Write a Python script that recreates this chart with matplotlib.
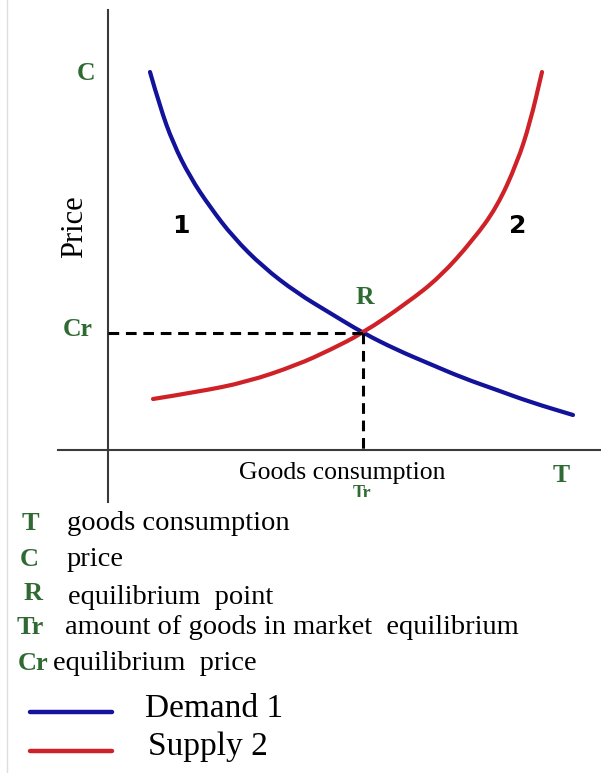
"""
Supply / demand equilibrium sketch with a text key underneath.
Coordinates are in picture pixels (origin top-left), read off the reference.
"""
import matplotlib as mpl
import matplotlib.pyplot as plt
from matplotlib.path import Path
from matplotlib.patches import PathPatch
from matplotlib.transforms import Bbox

mpl.rcParams.update({"font.family": "Liberation Serif"})

W, H = 601, 773
BLUE = "#12129a"
RED = "#cf2128"
GREEN = "#2f6a33"
AXIS = "#3a3a3a"

# demand curve 1 (x, y in px)
demand_x = [150, 160, 173, 190, 210, 233, 263, 297, 330, 363, 397, 430, 463, 497, 530, 573]
demand_y = [72, 107, 143, 177, 207, 237, 267, 293, 313, 333, 350, 364, 378, 390, 402, 415]

# supply curve 2
supply_x = [153, 197, 247, 297, 330, 363, 407, 440, 473, 497, 517, 530, 542]
supply_y = [399, 392, 382, 365, 350, 333, 303, 277, 240, 207, 163, 123, 72]

# equilibrium point R
eq_x, eq_y = 363, 333
origin_x, origin_y = 108, 450

key_symbols = ["T", "C", "R", "Tr", "Cr"]
key_texts = ["goods consumption", "price", "equilibrium  point",
             "amount of goods in market  equilibrium", "equilibrium  price"]
key_sym_pos = [(30, 523), (29, 560), (33, 594), (30, 628), (33, 663)]
key_txt_pos = [(67, 524), (67, 560), (68, 598), (65, 628), (53, 663)]


def smooth_curve(ax, xs, ys, **kw):
    # quadratic segments through the midpoints of the read points
    pts = list(zip(xs, ys))
    verts, codes = [pts[0]], [Path.MOVETO]
    for i in range(1, len(pts) - 1):
        mid = ((pts[i][0] + pts[i + 1][0]) / 2, (pts[i][1] + pts[i + 1][1]) / 2)
        verts += [pts[i], mid]
        codes += [Path.CURVE3, Path.CURVE3]
    verts.append(pts[-1])
    codes.append(Path.LINETO)
    ax.add_patch(PathPatch(Path(verts, codes), fill=False, capstyle="round", **kw))


fig = plt.figure(figsize=(W / 100, H / 100), dpi=100)
ax = fig.add_axes([0, 0, 1, 1])
ax.set_xlim(0, W)
ax.set_ylim(H, 0)
ax.axis("off")

# faint page border on the left
ax.plot([7, 7], [0, H], color="#dedede", lw=1)

# axes
ax.plot([origin_x, origin_x], [10, 502], color=AXIS, lw=1.5)
ax.plot([58, W], [origin_y, origin_y], color=AXIS, lw=1.5)

# dashed guides to the equilibrium
ax.plot([origin_x, eq_x], [eq_y, eq_y], color="black", lw=2.2, ls=(0, (3.5, 2.2)))
ax.plot([eq_x, eq_x], [eq_y, origin_y], color="black", lw=2.2, ls=(0, (3.5, 2.2)))

smooth_curve(ax, demand_x, demand_y, edgecolor=BLUE, lw=3)
smooth_curve(ax, supply_x, supply_y, edgecolor=RED, lw=3)

bold_green = dict(color=GREEN, fontweight="bold", ha="center", va="center")
ax.text(86, 73, "C", fontsize=18.5, **bold_green)
ax.text(78, 330, "Cr", fontsize=18.5, **bold_green)
ax.text(365, 297, "R", fontsize=18.5, **bold_green)
ax.text(561, 475, "T", fontsize=18.5, **bold_green)
tr = ax.text(362, 493, "Tr", fontsize=13, **bold_green)
tr.set_clip_box(Bbox.from_extents(*ax.transData.transform((0, 497)), W, H))
tr.set_clip_on(True)

ax.text(75, 227, "Price", fontsize=22, rotation=90, ha="center", va="center")
ax.text(342, 473, "Goods consumption", fontsize=18.5, ha="center", va="center")
ax.text(181, 226, "1", fontsize=18, fontweight="bold", family="DejaVu Sans",
        ha="center", va="center")
ax.text(518, 226, "2", fontsize=18, fontweight="bold", family="DejaVu Sans",
        ha="center", va="center")

# key
for sym, (sx, sy), txt, (tx, ty) in zip(key_symbols, key_sym_pos, key_texts, key_txt_pos):
    ax.text(sx, sy, sym, fontsize=19, **bold_green)
    ax.text(tx, ty, txt, fontsize=20.5, ha="left", va="center")

ax.plot([30, 112], [712, 712], color=BLUE, lw=3.2, solid_capstyle="round")
ax.plot([30, 112], [751, 751], color=RED, lw=3.2, solid_capstyle="round")
ax.text(145, 717, "Demand 1", fontsize=24, ha="left", va="baseline")
ax.text(148, 755, "Supply 2", fontsize=24, ha="left", va="baseline")

fig.savefig("out.png", dpi=100)
